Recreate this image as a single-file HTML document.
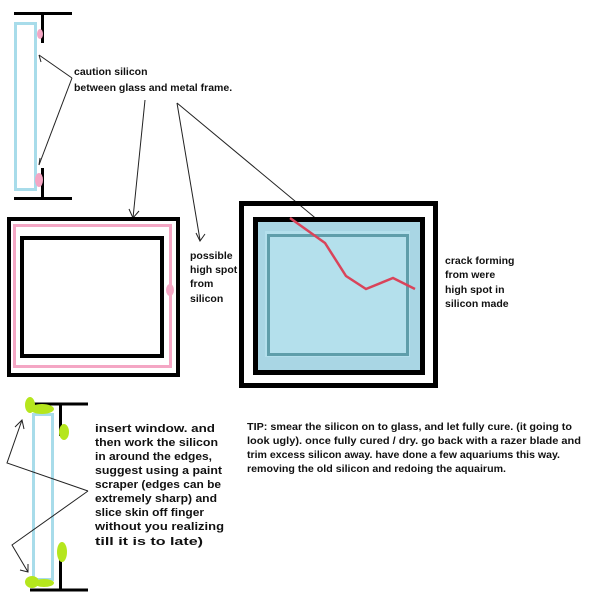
<!DOCTYPE html>
<html><head><meta charset="utf-8"><style>
html,body{margin:0;padding:0;background:#fff;}
svg{display:block;}
text{font-family:"Liberation Sans",sans-serif;font-weight:bold;font-size:10.5px;fill:#111;}
.b{font-size:11px;}
</style></head><body>
<svg width="604" height="600" viewBox="0 0 604 600" xmlns="http://www.w3.org/2000/svg">
<rect x="15.5" y="23.5" width="20" height="166" fill="none" stroke="#a8dcea" stroke-width="3"/>
<line x1="14" y1="13.5" x2="72" y2="13.5" stroke="#000" stroke-width="3"/>
<line x1="42.5" y1="13" x2="42.5" y2="43" stroke="#000" stroke-width="3"/>
<line x1="42.5" y1="168" x2="42.5" y2="199" stroke="#000" stroke-width="3"/>
<line x1="14" y1="198.5" x2="72" y2="198.5" stroke="#000" stroke-width="3"/>
<ellipse cx="40" cy="34" rx="3" ry="5" fill="#f4a6c4"/>
<ellipse cx="39" cy="180" rx="4" ry="7" fill="#f4a6c4"/>
<g stroke="#222" stroke-width="1" fill="none">
<polyline points="72,78 39,55"/><polyline points="39,55 41,62 M39,55 46,55"/>
<polyline points="72,78 39,165"/><polyline points="39,165 40,158 M39,165 45,161"/>
<line x1="145" y1="100" x2="133" y2="218"/><polyline points="129,209 133,218 139,211"/>
<line x1="177" y1="103" x2="200" y2="240"/><polyline points="196,233 200,241 205,234"/>
<line x1="177" y1="103" x2="325" y2="226"/><polyline points="318,224 325,226 322,220"/>
</g>
<text x="74" y="75">caution silicon</text>
<text x="74" y="91">between glass and metal frame.</text>

<rect x="9" y="219" width="169" height="156" fill="none" stroke="#000" stroke-width="4"/>
<rect x="14.5" y="225.5" width="156" height="141" fill="none" stroke="#f4a6c4" stroke-width="3"/>
<rect x="22" y="238" width="140" height="118" fill="none" stroke="#000" stroke-width="4"/>
<ellipse cx="170" cy="290" rx="4" ry="6" fill="#f4a6c4"/>
<text x="190" y="259">possible</text>
<text x="190" y="273">high spot</text>
<text x="190" y="287">from</text>
<text x="190" y="302">silicon</text>

<rect x="241.5" y="203.5" width="194" height="182" fill="none" stroke="#000" stroke-width="5"/>
<rect x="255" y="218" width="166" height="152" fill="#a9d6e4"/>
<rect x="265" y="231" width="145" height="126" fill="#b4e0ec"/>
<rect x="255.5" y="219.5" width="167" height="153" fill="none" stroke="#000" stroke-width="5"/>
<rect x="268.5" y="235.5" width="139" height="119" fill="none" stroke="#5f9eaa" stroke-width="3"/>
<polyline points="290,218 325,243 346,276 366,289 393,278 415,289" fill="none" stroke="#d9445a" stroke-width="2.5"/>
<text x="445" y="264">crack forming</text>
<text x="445" y="278">from were</text>
<text x="445" y="293">high spot in</text>
<text x="445" y="307">silicon made</text>

<rect x="33.5" y="414.5" width="19" height="165" fill="none" stroke="#a8dcea" stroke-width="3"/>
<line x1="30" y1="404" x2="88" y2="404" stroke="#000" stroke-width="3"/>
<line x1="60.5" y1="404" x2="60.5" y2="436" stroke="#000" stroke-width="3"/>
<line x1="60.5" y1="560" x2="60.5" y2="591" stroke="#000" stroke-width="3"/>
<line x1="30" y1="590" x2="88" y2="590" stroke="#000" stroke-width="3"/>
<g fill="#b5e61d">
<ellipse cx="30" cy="405" rx="5" ry="8"/><ellipse cx="42" cy="409" rx="12" ry="5"/>
<ellipse cx="64" cy="432" rx="5" ry="8"/><ellipse cx="62" cy="552" rx="5" ry="10"/>
<ellipse cx="32" cy="582" rx="7" ry="6"/><ellipse cx="44" cy="583" rx="10" ry="4"/>
</g>
<g stroke="#222" stroke-width="1" fill="none">
<polyline points="88,491 7,463 22,420"/><polyline points="15,427 22,420 24,429"/>
<polyline points="88,491 12,545 28,572"/><polyline points="20,570 28,572 28,564"/>
</g>
<g class="b">
<text class="b" x="95" y="432" textLength="120" lengthAdjust="spacingAndGlyphs">insert window. and</text>
<text class="b" x="95" y="446" textLength="123" lengthAdjust="spacingAndGlyphs">then work the silicon</text>
<text class="b" x="95" y="460" textLength="117" lengthAdjust="spacingAndGlyphs">in around the edges,</text>
<text class="b" x="95" y="474" textLength="127" lengthAdjust="spacingAndGlyphs">suggest using a paint</text>
<text class="b" x="95" y="488" textLength="126" lengthAdjust="spacingAndGlyphs">scraper (edges can be</text>
<text class="b" x="95" y="502" textLength="122" lengthAdjust="spacingAndGlyphs">extremely sharp) and</text>
<text class="b" x="95" y="516" textLength="109" lengthAdjust="spacingAndGlyphs">slice skin off finger</text>
<text class="b" x="95" y="530" textLength="129" lengthAdjust="spacingAndGlyphs">without you realizing</text>
<text class="b" x="95" y="545" textLength="108" lengthAdjust="spacingAndGlyphs">till it is to late)</text>
</g>
<text x="247" y="430" textLength="325" lengthAdjust="spacingAndGlyphs">TIP: smear the silicon on to glass, and let fully cure. (it going to</text>
<text x="247" y="444" textLength="334" lengthAdjust="spacingAndGlyphs">look ugly). once fully cured / dry. go back with a razer blade and</text>
<text x="247" y="458" textLength="313" lengthAdjust="spacingAndGlyphs">trim excess silicon away.   have done a few aquariums this way.</text>
<text x="247" y="472" textLength="259" lengthAdjust="spacingAndGlyphs">removing the old silicon and redoing the aquairum.</text>
</svg>
</body></html>
